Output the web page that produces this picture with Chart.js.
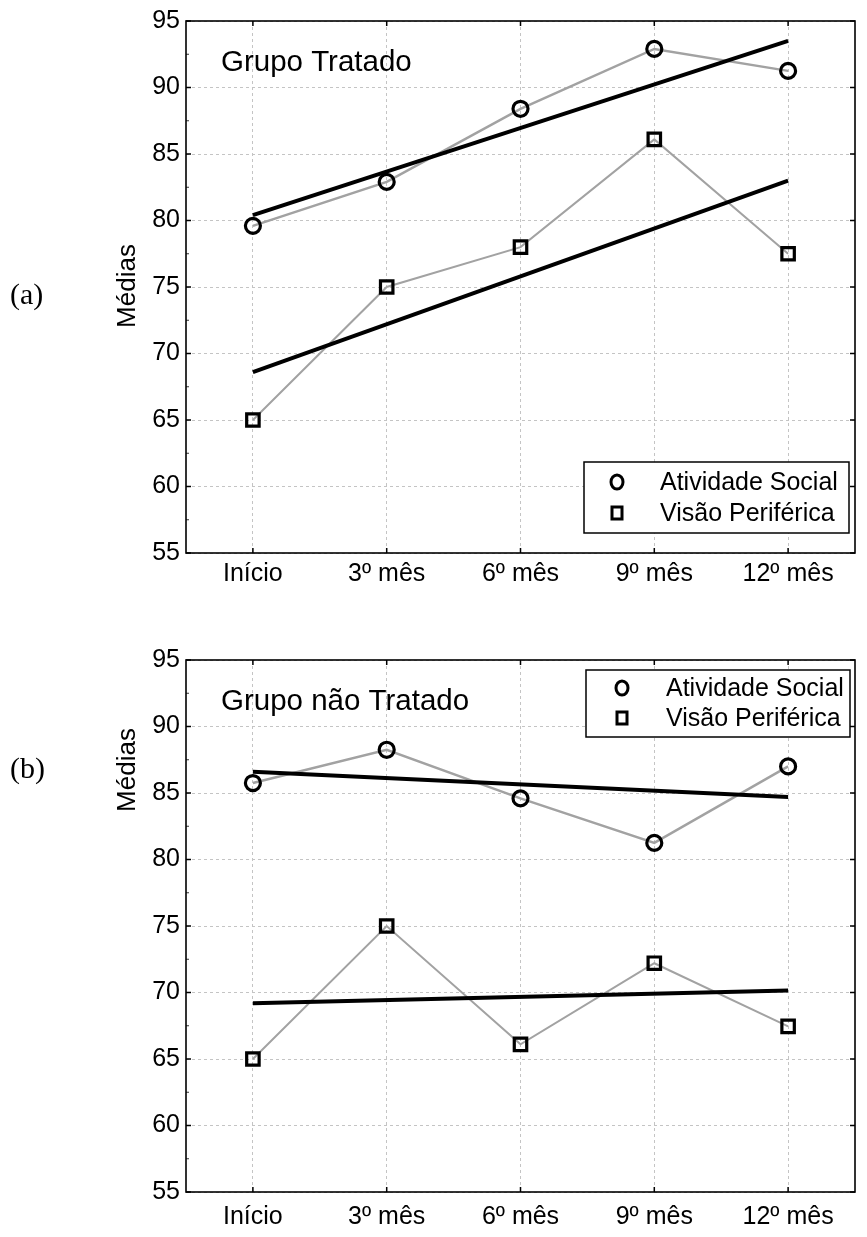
<!DOCTYPE html>
<html>
<head>
<meta charset="utf-8">
<script src="https://cdn.jsdelivr.net/npm/chart.js@4/dist/chart.umd.min.js"></script>
<style>
  html, body { margin: 0; padding: 0; background: #fff; }
  #wrap { position: relative; width: 867px; height: 1237px; }
  canvas { position: absolute; left: 0; }
  #ca { top: 0; }
  #cb { top: 618px; }
</style>
</head>
<body>
<div id="wrap">
  <canvas id="ca" width="867" height="618"></canvas>
  <canvas id="cb" width="867" height="619"></canvas>
</div>
<script>
// Time points and value axis
const categories = ['Início', '3º mês', '6º mês', '9º mês', '12º mês'];
const yTicks = [55, 60, 65, 70, 75, 80, 85, 90, 95];
const seriesNames = ['Atividade Social', 'Visão Periférica'];

// Grupo Tratado
const tratadoSocial = [79.6, 82.9, 88.4, 92.9, 91.25];
const tratadoVisao = [65.0, 75.0, 78.0, 86.1, 77.5];
const tratadoSocialTrend = [80.4, 93.5];   // Início -> 12º mês
const tratadoVisaoTrend = [68.6, 83.0];

// Grupo não Tratado
const naoTratadoSocial = [85.75, 88.25, 84.6, 81.25, 87.0];
const naoTratadoVisao = [65.0, 75.0, 66.1, 72.2, 67.45];
const naoTratadoSocialTrend = [86.6, 84.7];
const naoTratadoVisaoTrend = [69.2, 70.15];

const FONT = "'Liberation Sans', Arial, Helvetica, sans-serif";
const SERIF = "'Liberation Serif', 'Times New Roman', serif";
const GRAY = '#a2a2a2';

function trendPoints(ends) {
  return [
    { x: categories[0], y: ends[0] },
    { x: categories[categories.length - 1], y: ends[1] }
  ];
}

// Frame, inward ticks, title, panel tag, y label and boxed legend
const decor = {
  id: 'decor',
  afterDraw(chart, args, o) {
    const ctx = chart.ctx;
    const a = chart.chartArea;
    const xs = chart.scales.x, ys = chart.scales.y;
    ctx.save();
    ctx.strokeStyle = '#000';

    // tick marks pointing into the plot
    ctx.lineWidth = 1.5;
    ctx.beginPath();
    yTicks.forEach(v => {
      const py = ys.getPixelForValue(v);
      ctx.moveTo(a.left, py); ctx.lineTo(a.left + 5, py);
      ctx.moveTo(a.right, py); ctx.lineTo(a.right - 5, py);
    });
    categories.forEach((c, i) => {
      const px = xs.getPixelForValue(i);
      ctx.moveTo(px, a.bottom); ctx.lineTo(px, a.bottom - 5);
      ctx.moveTo(px, a.top); ctx.lineTo(px, a.top + 5);
    });
    ctx.stroke();
    ctx.lineWidth = 0.8;
    ctx.beginPath();
    for (let k = 0; k < yTicks.length - 1; k++) {
      const py = ys.getPixelForValue((yTicks[k] + yTicks[k + 1]) / 2);
      ctx.moveTo(a.left, py); ctx.lineTo(a.left + 3, py);
    }
    ctx.stroke();

    // plot frame
    ctx.lineWidth = 1.6;
    ctx.strokeRect(a.left, a.top, a.right - a.left, a.bottom - a.top);

    // group title
    ctx.fillStyle = '#000';
    ctx.font = '29.5px ' + FONT;
    ctx.textAlign = 'left';
    ctx.textBaseline = 'alphabetic';
    ctx.fillText(o.title, a.left + 35, a.top + 50);

    // y axis label
    ctx.save();
    ctx.translate(128, o.labelY);
    ctx.rotate(-Math.PI / 2);
    ctx.font = '26px ' + FONT;
    ctx.textAlign = 'center';
    ctx.textBaseline = 'middle';
    ctx.fillText('Médias', 0, 0);
    ctx.restore();

    // panel tag
    ctx.font = '30px ' + SERIF;
    ctx.textAlign = 'left';
    ctx.textBaseline = 'middle';
    ctx.fillText(o.tag, 10, o.tagY);

    // legend
    const L = o.legend;
    const bx = a.right - L.right - L.w;
    const by = L.top != null ? a.top + L.top : a.bottom - L.bottom - L.h;
    ctx.fillStyle = '#fff';
    ctx.fillRect(bx, by, L.w, L.h);
    ctx.lineWidth = 1.5;
    ctx.strokeRect(bx, by, L.w, L.h);
    ctx.font = '25px ' + FONT;
    ctx.textBaseline = 'middle';
    ctx.fillStyle = '#000';
    seriesNames.forEach((name, i) => {
      const cy = by + L.rows[i];
      const cx = bx + L.marker;
      ctx.lineWidth = 3;
      ctx.beginPath();
      if (i === 0) {
        ctx.ellipse(cx, cy, 6, 7, 0, 0, Math.PI * 2);
      } else {
        ctx.rect(cx - 5, cy - 6, 10, 12);
      }
      ctx.stroke();
      ctx.fillText(name, bx + L.text, cy + 1);
    });
    ctx.restore();
  }
};

function makePanel(canvasId, cfg) {
  return new Chart(document.getElementById(canvasId), {
    type: 'line',
    data: {
      labels: categories,
      datasets: [
        {
          label: 'Tendência ' + seriesNames[0],
          data: trendPoints(cfg.socialTrend),
          borderColor: '#000', borderWidth: 4, pointRadius: 0, order: 0
        },
        {
          label: 'Tendência ' + seriesNames[1],
          data: trendPoints(cfg.visaoTrend),
          borderColor: '#000', borderWidth: 4, pointRadius: 0, order: 0
        },
        {
          label: seriesNames[0],
          data: cfg.social,
          borderColor: GRAY, borderWidth: 2.5,
          pointStyle: 'circle', pointRadius: 7.5, pointBorderWidth: 3.2,
          pointBorderColor: '#000', pointBackgroundColor: 'rgba(0,0,0,0)', order: 1
        },
        {
          label: seriesNames[1],
          data: cfg.visao,
          borderColor: GRAY, borderWidth: 2,
          pointStyle: 'rect', pointRadius: 8.8, pointBorderWidth: 3.2,
          pointBorderColor: '#000', pointBackgroundColor: 'rgba(0,0,0,0)', order: 1
        }
      ]
    },
    options: {
      responsive: false,
      animation: false,
      layout: { padding: { top: cfg.padTop, right: 4, bottom: 0, left: 0 } },
      plugins: {
        legend: { display: false },
        tooltip: { enabled: false },
        decor: cfg.decor
      },
      scales: {
        x: {
          type: 'category',
          offset: true,
          grid: { offset: false, color: '#c4c4c4', lineWidth: 1, drawTicks: false },
          border: { display: false, dash: [3, 3] },
          ticks: { color: '#000', font: { family: FONT, size: 25 }, padding: cfg.xPad, maxRotation: 0, autoSkip: false },
          afterFit(s) { s.height = cfg.xAxisHeight; }
        },
        y: {
          min: 55, max: 95,
          afterBuildTicks(s) { s.ticks = yTicks.map(v => ({ value: v })); },
          grid: { color: '#c4c4c4', lineWidth: 1, drawTicks: false },
          border: { display: false, dash: [3, 3] },
          ticks: { color: '#000', font: { family: FONT, size: 25 }, padding: 6 },
          afterFit(s) { s.width = 186; }
        }
      }
    },
    plugins: [decor]
  });
}

makePanel('ca', {
  social: tratadoSocial, visao: tratadoVisao,
  socialTrend: tratadoSocialTrend, visaoTrend: tratadoVisaoTrend,
  padTop: 20, xAxisHeight: 65, xPad: 6,
  decor: {
    title: 'Grupo Tratado', tag: '(a)', tagY: 296, labelY: 286,
    legend: { w: 265, h: 71, right: 6, bottom: 20, rows: [20, 51], marker: 33, text: 76 }
  }
});

makePanel('cb', {
  social: naoTratadoSocial, visao: naoTratadoVisao,
  socialTrend: naoTratadoSocialTrend, visaoTrend: naoTratadoVisaoTrend,
  padTop: 42, xAxisHeight: 45, xPad: 10,
  decor: {
    title: 'Grupo não Tratado', tag: '(b)', tagY: 152, labelY: 152,
    legend: { w: 264, h: 67, right: 5, top: 10, rows: [18, 48], marker: 36, text: 80 }
  }
});
</script>
</body>
</html>
